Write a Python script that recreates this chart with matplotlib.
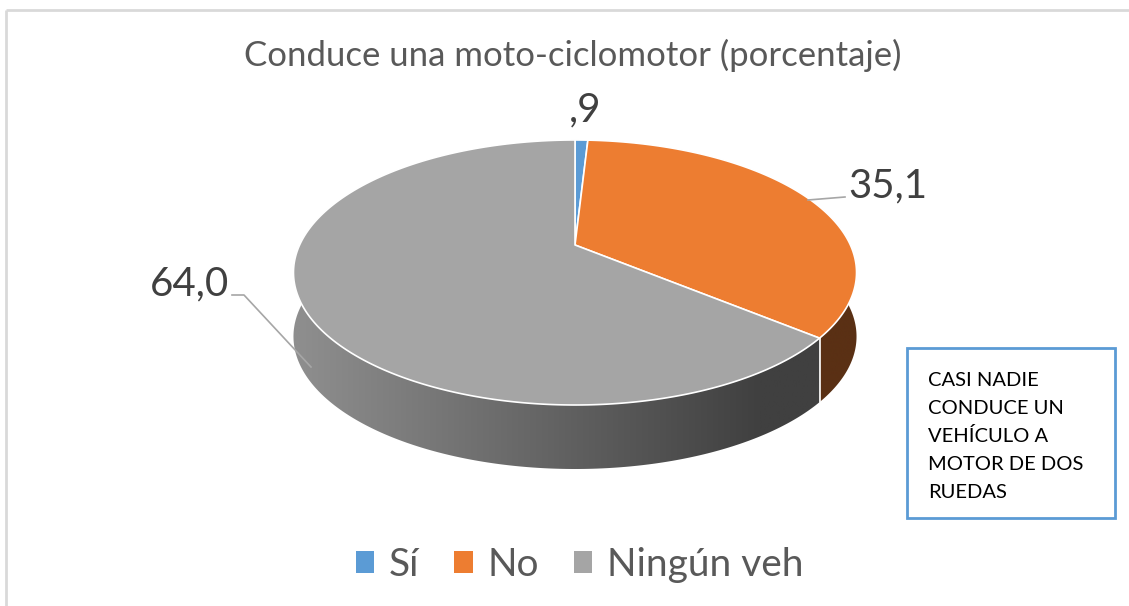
import numpy as np
import matplotlib
matplotlib.use("Agg")
import matplotlib.pyplot as plt
from matplotlib.patches import Polygon, Rectangle, Patch
import matplotlib.colors as mcolors

plt.rcParams['font.family'] = ['Lato', 'DejaVu Sans']

# ---- data ----
categories = ["Sí", "No", "Ningún veh"]
values = [0.9, 35.1, 64.0]
value_labels = [",9", "35,1", "64,0"]
top_colors = ["#5b9bd5", "#ed7d31", "#a5a5a5"]
title = "Conduce una moto-ciclomotor (porcentaje)"
note_lines = ["CASI NADIE", "CONDUCE UN", "VEHÍCULO A", "MOTOR DE DOS", "RUEDAS"]

# ---- layout (pixel space) ----
W, H = 1129, 606
fig = plt.figure(figsize=(W / 100, H / 100), dpi=100)
ax = fig.add_axes([0, 0, 1, 1])
ax.set_xlim(0, W)
ax.set_ylim(H, 0)
ax.axis('off')

cx, cy = 575.0, 245.0
Rx, Ry, k = 275.4, 126.8, 0.2075
depth = 64.0


def proj(phi_deg, drop=0.0):
    p = np.radians(phi_deg)
    u = np.sin(p)
    v = -np.cos(p)
    s = 1.0 / (1.0 - k * v)
    return cx + Rx * u * s, cy + Ry * v * s + drop


total = float(sum(values))
bounds = np.concatenate([[0], np.cumsum(values)]) / total * 360.0

# chart border
ax.plot([6, 6], [H + 5, 10], color="#d9d9d9", lw=2, solid_capstyle='butt')
ax.plot([6, W + 5], [10, 10], color="#d9d9d9", lw=2, solid_capstyle='butt')

side_grad = {
    0: ("#2f5f8a", "#2f5f8a"),
    1: ("#5e3216", "#5a3014"),
    2: ("#8e8e8e", "#404040"),
}

# side walls: one polygon per slice, filled by a clipped horizontal gradient
for i in range(len(values)):
    a0, a1 = bounds[i], bounds[i + 1]
    lo, hi = max(a0, 80.0), min(a1, 280.0)
    if hi <= lo:
        continue
    ph = np.linspace(lo, hi, 400)
    xt, yt = proj(ph)
    xb, yb = proj(ph, depth)
    pts = list(zip(xt, yt)) + list(zip(xb[::-1], yb[::-1]))
    poly = Polygon(pts, closed=True, facecolor='none', edgecolor='none', zorder=2)
    ax.add_patch(poly)
    c0 = np.array(mcolors.to_rgb(side_grad[i][0]))
    c1 = np.array(mcolors.to_rgb(side_grad[i][1]))
    xs = np.linspace(290, 860, 600)
    t = np.clip((xs - 300) / (760 - 300), 0, 1)[None, :, None]
    img = c0 + (c1 - c0) * t
    im = ax.imshow(img, extent=(290, 860, 480, 150), aspect='auto',
                   interpolation='bilinear', zorder=2)
    im.set_clip_path(poly)

# white separator on the side at slice boundaries that face front
for b in bounds[1:-1]:
    if 90 < b < 270:
        xb, yb = proj(b)
        ax.plot([xb, xb], [yb, yb + depth], color="white", lw=1.2, zorder=3)

# top faces
for i in range(len(values)):
    a0, a1 = bounds[i], bounds[i + 1]
    ph = np.linspace(a0, a1, max(int((a1 - a0) * 2), 3))
    xs, ys = proj(ph)
    pts = [(cx, cy)] + list(zip(xs, ys))
    ax.add_patch(Polygon(pts, closed=True, facecolor=top_colors[i],
                         edgecolor="white", lw=1.2, joinstyle='round', zorder=4))

ax.set_xlim(0, W)
ax.set_ylim(H, 0)

# title
ax.text(573, 55, title, ha='center', va='center', fontsize=25, color="#595959", zorder=6)

# value labels
lab_col = "#404040"
ax.text(585, 110, value_labels[0], ha='center', va='center', fontsize=29, color=lab_col, zorder=6)
ax.text(888, 186, value_labels[1], ha='center', va='center', fontsize=29, color=lab_col, zorder=6)
ax.text(190, 284, value_labels[2], ha='center', va='center', fontsize=29, color=lab_col, zorder=6)

# leader lines
ax.plot([845, 808], [197, 200], color="#a6a6a6", lw=1.2, zorder=5)
ax.plot([232, 244, 311], [295, 295, 367], color="#a6a6a6", lw=1.2, zorder=5)

# note box
ax.add_patch(Rectangle((907, 348), 208, 170, facecolor="white", edgecolor="#5b9bd5",
                       lw=2, zorder=6))
for n, line in enumerate(note_lines):
    ax.text(928, 380 + 28.2 * n, line, ha='left', va='center', fontsize=14.5,
            color="black", zorder=7)

# legend
handles = [Patch(facecolor=c, edgecolor='none') for c in top_colors]
leg = fig.legend(handles, categories, loc='center', bbox_to_anchor=(0.5135, 1 - 565 / H),
                 ncol=3, frameon=False, fontsize=28, labelcolor="#595959",
                 handlelength=0.47, handleheight=0.47, handletextpad=0.38,
                 columnspacing=0.9)

fig.savefig("out.png", dpi=100)
